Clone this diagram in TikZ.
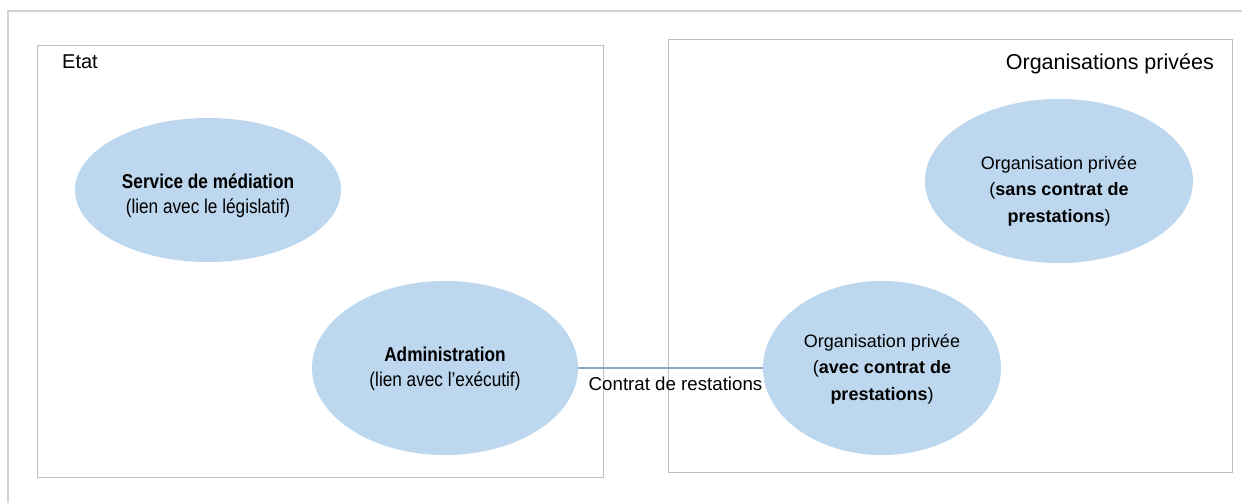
\documentclass[tikz,border=0pt]{standalone}
\usepackage{fontspec}
\setmainfont{Liberation Sans}
\newfontfamily\narrowfont[FakeStretch=0.86]{Liberation Sans}
\usetikzlibrary{shapes.geometric}
\definecolor{ellfill}{RGB}{189,215,238}
\definecolor{boxline}{RGB}{190,190,190}
\definecolor{frameline}{RGB}{210,210,210}
\definecolor{linkline}{RGB}{140,170,200}
\begin{document}
\begin{tikzpicture}[x=1pt,y=-1pt,
  bubble/.style={ellipse,fill=ellfill,inner sep=0pt},
  bubtext/.style={align=center,inner sep=0pt},
  lefttext/.style={bubtext,font=\narrowfont\fontsize{20}{25}\selectfont},
  righttext/.style={bubtext,font=\fontsize{18}{26.5}\selectfont},
  groupbox/.style={draw=boxline,line width=1.2pt,anchor=north west,inner sep=0pt},
  lbl/.style={inner sep=0pt}]
\useasboundingbox (0,0) rectangle (1242,503);
\fill[white] (0,0) rectangle (1242,503);
\draw[frameline,line width=1.2pt] (8,530) -- (8,11) -- (1260,11);
\node[groupbox,minimum width=566pt,minimum height=432pt] (etat) at (37,45) {};
\node[groupbox,minimum width=564pt,minimum height=433pt] (priv) at (668,39) {};
\node[lbl,anchor=base west,font=\fontsize{20}{24}\selectfont] (etatlbl) at (62,69) {Etat};
\node[lbl,anchor=base east,font=\fontsize{21.5}{24}\selectfont] (privlbl) at (1214,70) {Organisations privées};
\node[bubble,minimum width=266pt,minimum height=144pt] (med) at (208,190) {};
\node[lefttext] (medtxt) at ([yshift=-6pt]med.center) {\textbf{Service de médiation}\\(lien avec le législatif)};
\node[bubble,minimum width=266pt,minimum height=174pt] (adm) at (445,368) {};
\node[lefttext] (admtxt) at ([yshift=-1pt]adm.center) {\textbf{Administration}\\(lien avec l’exécutif)};
\node[bubble,minimum width=238pt,minimum height=174pt] (avec) at (882,368) {};
\node[righttext] (avectxt) at ([yshift=-1pt]avec.center) {Organisation privée\\(\textbf{avec contrat de}\\\textbf{prestations})};
\node[bubble,minimum width=268pt,minimum height=164pt] (sans) at (1059,181) {};
\node[righttext] (sanstxt) at ([yshift=-10pt]sans.center) {Organisation privée\\(\textbf{sans contrat de}\\\textbf{prestations})};
\draw[linkline,line width=1.2pt] (adm.east) -- node[below=8pt,xshift=5pt,font=\fontsize{18.7}{20}\selectfont,text=black,inner sep=0pt] (contrat) {Contrat de restations} (avec.west);
\end{tikzpicture}
\end{document}
